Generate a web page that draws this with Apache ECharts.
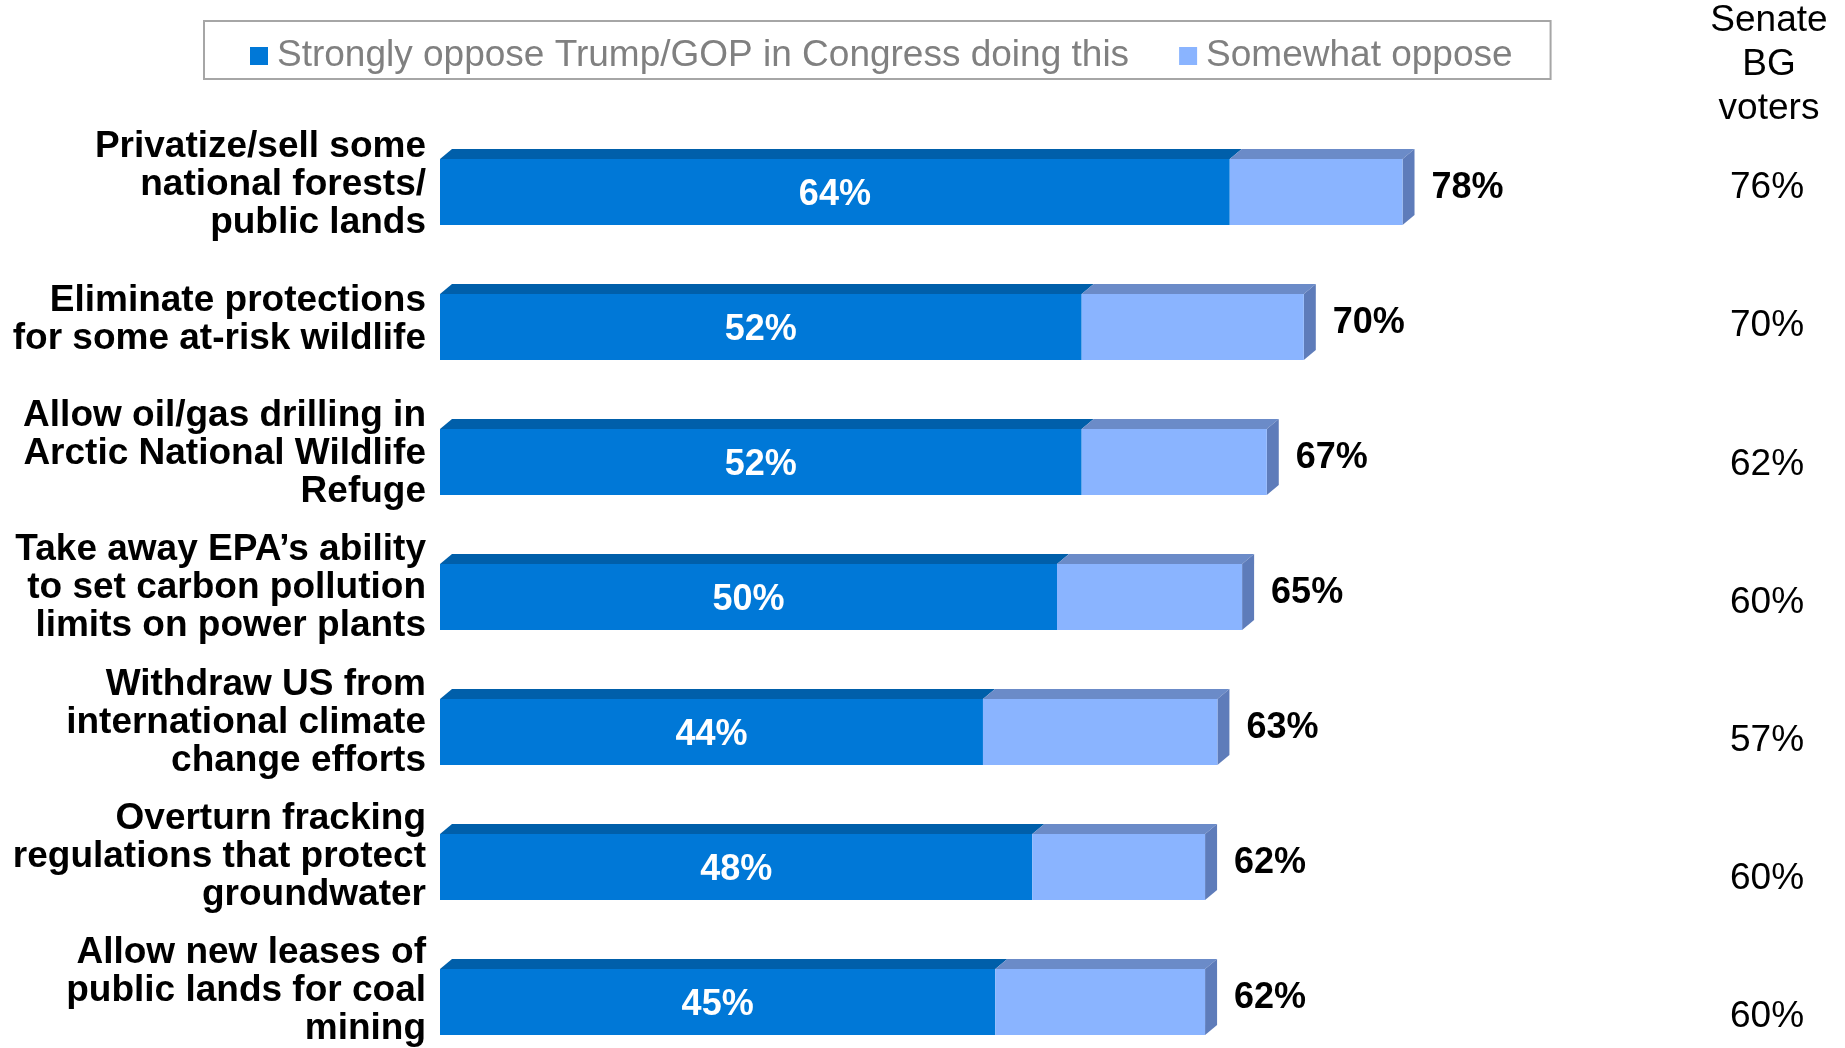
<!DOCTYPE html>
<html>
<head>
<meta charset="utf-8">
<script src="https://cdn.jsdelivr.net/npm/echarts@6/dist/echarts.min.js"></script>
<style>
html,body{margin:0;padding:0;background:#fff;}
#chart{width:1845px;height:1048px;}
</style>
</head>
<body>
<div id="chart"></div>
<script>
const categories = [
  'Privatize/sell some\nnational forests/\npublic lands',
  'Eliminate protections\nfor some at-risk wildlife',
  'Allow oil/gas drilling in\nArctic National Wildlife\nRefuge',
  'Take away EPA\u2019s ability\nto set carbon pollution\nlimits on power plants',
  'Withdraw US from\ninternational climate\nchange efforts',
  'Overturn fracking\nregulations that protect\ngroundwater',
  'Allow new leases of\npublic lands for coal\nmining'
];
const strongly = [64, 52, 52, 50, 44, 48, 45];
const somewhat = [14, 18, 15, 15, 19, 14, 17];
const totals = [78, 70, 67, 65, 63, 62, 62];
const senateBG = [76, 70, 62, 60, 57, 60, 60];
const seriesNames = ['Strongly oppose Trump/GOP in Congress doing this', 'Somewhat oppose'];
const senateHeader = 'Senate\nBG\nvoters';

const FONT = '"Liberation Sans", Arial, sans-serif';
const C = {
  darkFront: '#0078D7', darkTop: '#005FAA',
  lightFront: '#8AB4FF', lightTop: '#6B8BC8', side: '#5E7CBA'
};
const BAR_W = 66, DX = 12, DY = 10;

const chart = echarts.init(document.getElementById('chart'), null, {renderer: 'canvas'});

function renderFaces(params, api) {
  const s = api.value(0), w = api.value(1), idx = api.value(2);
  const p0 = api.coord([0, idx]);
  const p1 = api.coord([s, idx]);
  const p2 = api.coord([s + w, idx]);
  const yT = p0[1] - BAR_W / 2, yB = p0[1] + BAR_W / 2;
  const poly = (pts, fill) => ({type: 'polygon', shape: {points: pts}, style: {fill: fill}});
  return {
    type: 'group',
    children: [
      poly([[p0[0], yT], [p0[0] + DX, yT - DY], [p1[0] + DX, yT - DY], [p1[0], yT]], C.darkTop),
      poly([[p1[0], yT], [p1[0] + DX, yT - DY], [p2[0] + DX, yT - DY], [p2[0], yT]], C.lightTop),
      poly([[p2[0], yT], [p2[0] + DX, yT - DY], [p2[0] + DX, yB - DY], [p2[0], yB]], C.side)
    ]
  };
}

const hiddenCat = (grid, extra) => Object.assign({
  type: 'category', data: categories, inverse: true, gridIndex: grid, boundaryGap: false,
  axisLine: {show: false}, axisTick: {show: false}, splitLine: {show: false}
}, extra);

const option = {
  animation: false,
  backgroundColor: '#fff',
  title: {
    text: senateHeader,
    left: 1769, top: -1, textAlign: 'center', padding: 0,
    textStyle: {fontFamily: FONT, fontSize: 37, fontWeight: 'normal', color: '#000', lineHeight: 44}
  },
  legend: {
    data: seriesNames,
    left: 204, top: 21,
    padding: [15, 38, 3, 46],
    borderColor: '#A6A6A6', borderWidth: 2,
    itemWidth: 18, itemHeight: 18, itemGap: 50,
    icon: 'rect',
    textStyle: {fontFamily: FONT, fontSize: 37, color: '#808080', lineHeight: 40, padding: [0, 0, 0, 4]}
  },
  grid: [
    {left: 440, top: 192, width: 1234, height: 810},
    {left: 1767, top: 188, width: 10, height: 829},
    {left: 440, top: 185, width: 1234, height: 810}
  ],
  xAxis: [
    {type: 'value', min: 0, max: 100, show: false, gridIndex: 0},
    {type: 'value', min: 0, max: 1, show: false, gridIndex: 1},
    {type: 'value', min: 0, max: 1, show: false, gridIndex: 2}
  ],
  yAxis: [
    hiddenCat(0, {axisLabel: {show: false}}),
    hiddenCat(1, {
      position: 'left',
      axisLabel: {
        interval: 0, fontFamily: FONT, fontSize: 37, color: '#000', align: 'center', margin: 0,
        formatter: (v, i) => senateBG[i] + '%'
      }
    }),
    hiddenCat(2, {
      axisLabel: {
        interval: 0, fontFamily: FONT, fontSize: 37, fontWeight: 'bold', color: '#000',
        lineHeight: 38, align: 'right', margin: 14
      }
    })
  ],
  series: [
    {
      name: seriesNames[0], type: 'bar', stack: 'a', barWidth: BAR_W,
      data: strongly, itemStyle: {color: C.darkFront},
      label: {
        show: true, position: 'inside', color: '#fff', offset: [0, 3],
        fontFamily: FONT, fontSize: 36, fontWeight: 'bold', formatter: '{c}%'
      },
      z: 3
    },
    {
      name: seriesNames[1], type: 'bar', stack: 'a', barWidth: BAR_W,
      data: somewhat, itemStyle: {color: C.lightFront},
      label: {
        show: true, position: 'right', distance: 29, offset: [0, -4], color: '#000',
        fontFamily: FONT, fontSize: 36, fontWeight: 'bold',
        formatter: p => totals[p.dataIndex] + '%'
      },
      z: 3
    },
    {
      name: 'faces', type: 'custom', renderItem: renderFaces,
      encode: {x: 0, y: 2},
      data: strongly.map((s, i) => [s, somewhat[i], i]),
      silent: true, z: 2
    },
    {
      name: 'senate', type: 'scatter', xAxisIndex: 1, yAxisIndex: 1,
      data: senateBG.map((v, i) => [0, i]), symbolSize: 0, silent: true
    },
    {
      name: 'cats', type: 'scatter', xAxisIndex: 2, yAxisIndex: 2,
      data: categories.map((c, i) => [0, i]), symbolSize: 0, silent: true
    }
  ]
};
chart.setOption(option);
</script>
</body>
</html>
